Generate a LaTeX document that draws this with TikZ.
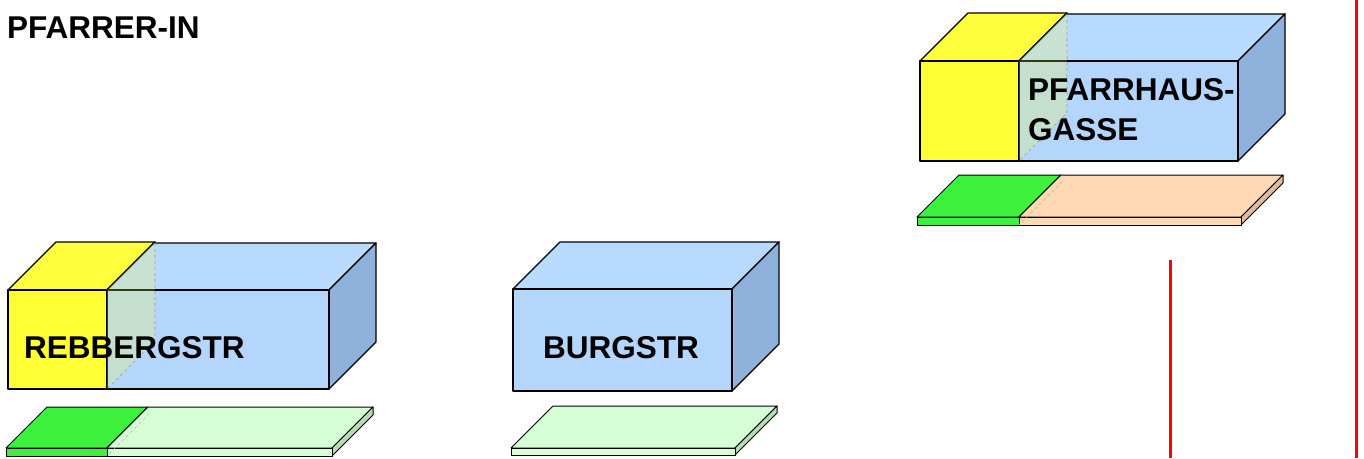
\documentclass[tikz,border=0pt]{standalone}
\usepackage{fontspec}
\setmainfont{Liberation Sans}
\definecolor{yelF}{RGB}{255,255,51}
\definecolor{yelT}{RGB}{255,255,60}
\definecolor{bluF}{RGB}{181,214,252}
\definecolor{bluT}{RGB}{184,218,255}
\definecolor{bluS}{RGB}{142,178,220}
\definecolor{grnF}{RGB}{60,240,60}
\definecolor{grnS}{RGB}{40,200,40}
\definecolor{lgrF}{RGB}{214,255,214}
\definecolor{lgrS}{RGB}{178,222,178}
\definecolor{pchF}{RGB}{255,216,180}
\definecolor{pchS}{RGB}{226,186,150}
\tikzset{
  edge/.style={draw=black, line width=1.3pt, line join=round},
  lbl/.style={anchor=base west, inner sep=0pt, font=\fontsize{31.5}{36}\selectfont\bfseries},
  redline/.style={draw=red, line width=3pt}
}
% cuboid: x0, x1, ytop, ybot, depth, front, top, side
\newcommand\mycuboid[8]{%
  \path[edge, fill=#7] (#1,#3) -- (#1+#5,#3-#5) -- (#2+#5,#3-#5) -- (#2,#3) -- cycle;
  \path[edge, fill=#8] (#2,#3) -- (#2+#5,#3-#5) -- (#2+#5,#4-#5) -- (#2,#4) -- cycle;
  \path[edge, fill=#6] (#1,#3) rectangle (#2,#4);
}
% plate: x0, x1, ytop, thickness, depth, front/top, side
\newcommand\myplate[7]{%
  \path[edge, line width=1pt, fill=#6] (#1,#3) -- (#1+#5,#3-#5) -- (#2+#5,#3-#5) -- (#2,#3) -- cycle;
  \path[edge, line width=1pt, fill=#7] (#2,#3) -- (#2+#5,#3-#5) -- (#2+#5,#3-#5+#4) -- (#2,#3+#4) -- cycle;
  \path[edge, line width=1pt, fill=#6] (#1,#3) rectangle (#2,#3+#4);
}
\begin{document}
\begin{tikzpicture}[x=1pt,y=-1pt]
\useasboundingbox (0,0) rectangle (1364,458);
% Rebbergstr
\mycuboid{8}{107}{290}{389}{48}{yelF}{yelT}{yelF}
\mycuboid{107}{329}{290}{389}{47}{bluF}{bluT}{bluS}
\fill[yelF, fill opacity=0.22] (107,290) -- (155,242) -- (155,341) -- (107,389) -- cycle;
\draw[black!40, dashed, line width=0.6pt] (155,243) -- (155,341) -- (107,389);
\myplate{6}{107}{448}{8}{41}{grnF}{grnS}
\myplate{107}{332}{448}{8}{41}{lgrF}{lgrS}
\draw[black!30, dashed, line width=0.5pt] (148,407) -- (148,415) -- (107,456);
\node[lbl] (rebberg) at (24,358) {REBBERGSTR};
% Burgstr
\mycuboid{513}{732}{289}{391}{47}{bluF}{bluT}{bluS}
\myplate{511}{735}{448}{7}{42}{lgrF}{lgrS}
\node[lbl] (burg) at (543,358) {BURGSTR};
% Pfarrhausgasse
\mycuboid{920}{1019}{61}{161}{48}{yelF}{yelT}{yelF}
\mycuboid{1019}{1238}{61}{161}{47}{bluF}{bluT}{bluS}
\fill[yelF, fill opacity=0.22] (1019,61) -- (1067,13) -- (1067,113) -- (1019,161) -- cycle;
\draw[black!40, dashed, line width=0.6pt] (1067,14) -- (1067,113) -- (1019,161);
\myplate{917}{1019}{217}{8}{42}{grnF}{grnS}
\myplate{1019}{1241}{217}{8}{42}{pchF}{pchS}
\draw[black!30, dashed, line width=0.5pt] (1061,175) -- (1061,183) -- (1019,225);
\node[lbl] (pfarr1) at (1028,100) {PFARRHAUS-};
\node[lbl] (pfarr2) at (1028,140) {GASSE};
% title
\node[lbl] (title) at (7,38) {PFARRER-IN};
% red lines
\coordinate (r1a) at (1170,260);
\coordinate (r1b) at (1170,458);
\coordinate (r2a) at (1356,0);
\coordinate (r2b) at (1356,458);
\draw[redline] (r1a) -- (r1b);
\draw[redline] (r2a) -- (r2b);
\end{tikzpicture}
\end{document}
